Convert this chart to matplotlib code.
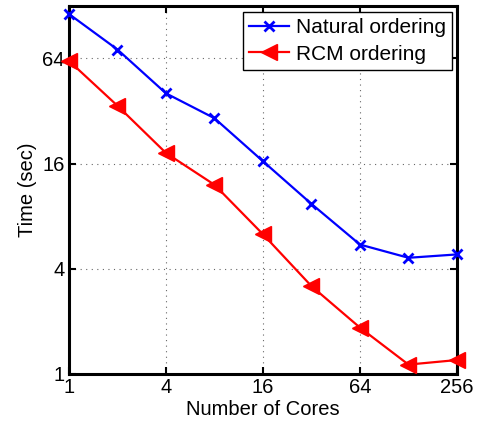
import matplotlib
matplotlib.use("Agg")
import matplotlib.pyplot as plt

cores = [1, 2, 4, 8, 16, 32, 64, 128, 256]
natural = [115, 72, 40.4, 29.1, 16.5, 9.4, 5.5, 4.62, 4.83]
rcm = [62, 34.3, 18.4, 12.1, 6.3, 3.18, 1.84, 1.13, 1.20]
xticks = [1, 4, 16, 64, 256]
yticks = [1, 4, 16, 64]

plt.rcParams['font.family'] = ['Liberation Sans', 'DejaVu Sans']

fig = plt.figure(figsize=(4.79, 4.21), dpi=100)
ax = fig.add_axes([0.144, 0.112, 0.810, 0.874])

ax.plot(cores, natural, color='#0000ff', lw=1.6, marker='x', ms=7, mew=2,
        label='Natural ordering', zorder=5, clip_on=False)
ax.plot(cores, rcm, color='#ff0000', lw=1.6, marker='<', ms=11,
        label='RCM ordering', zorder=5, clip_on=False)

ax.set_xscale('log', base=2)
ax.set_yscale('log', base=2)
ax.set_xlim(1, 256)
ax.set_ylim(1, 128)
ax.set_xticks(xticks)
ax.set_xticklabels([str(v) for v in xticks])
ax.set_yticks(yticks)
ax.set_yticklabels([str(v) for v in yticks])
ax.minorticks_off()

ax.grid(True, which='major', linestyle=(0, (1, 4)), color='black', lw=0.8, alpha=0.6)
ax.tick_params(direction='in', length=5, width=1.5, top=True, right=True,
               labelsize=14.5, pad=3)
for s in ax.spines.values():
    s.set_linewidth(2.2)
    s.set_zorder(4)

ax.set_xlabel('Number of Cores', fontsize=14.5, labelpad=2)
ax.set_ylabel('Time (sec)', fontsize=14.5, labelpad=4)

leg = ax.legend(loc='upper right', bbox_to_anchor=(452/479, 1 - 12/421),
                bbox_transform=fig.transFigure, fontsize=15, frameon=True,
                fancybox=False, edgecolor='black', framealpha=1,
                borderpad=0.28, labelspacing=0.38, handlelength=1.92,
                handletextpad=0.34, borderaxespad=0)
leg.get_frame().set_linewidth(1.0)
leg.set_zorder(6)

fig.savefig('out.png', dpi=100)
